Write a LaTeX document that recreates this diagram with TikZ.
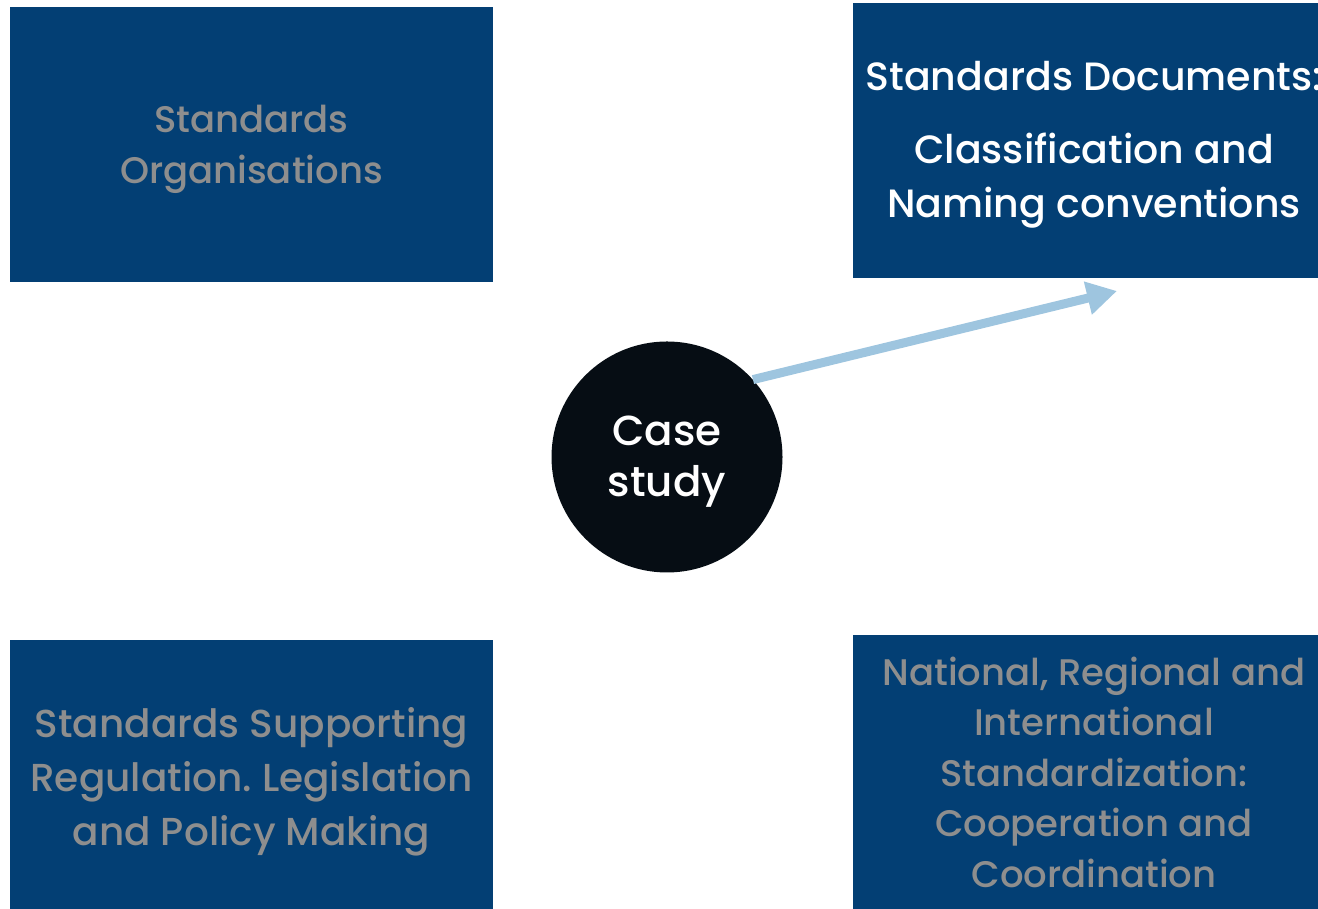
\documentclass[tikz,border=0pt]{standalone}
\usepackage{fontspec}
\setmainfont{Poppins}[UprightFont={* Medium}]
\usetikzlibrary{arrows.meta}
\frenchspacing
\definecolor{boxblue}{HTML}{033F74}
\definecolor{txtgray}{HTML}{8E8E8E}
\definecolor{arrowblue}{HTML}{9EC5DF}
\definecolor{circblack}{HTML}{060D14}
\tikzset{
  panel/.style={fill=boxblue, draw=none, inner sep=0pt, outer sep=0pt},
  graytext/.style={text=txtgray, align=center, inner sep=0pt, font=\frenchspacing\fontsize{37}{51}\selectfont},
  whitetext/.style={text=white, align=center, inner sep=0pt, font=\fontsize{39.5}{54}\selectfont},
  hub/.style={circle, fill=circblack, minimum size=231pt, inner sep=0pt},
  hubtext/.style={text=white, align=center, inner sep=0pt, font=\fontsize{42}{51}\selectfont},
  link/.style={draw=arrowblue, line width=9pt, -{Triangle[length=30pt,width=32pt]}}
}
\begin{document}
\begin{tikzpicture}[x=1pt,y=1pt]
\useasboundingbox (0,0) rectangle (1318,909);
% panels (y = 909 - pixel y)
\fill[panel] (10,902) rectangle (493,627);
\fill[panel] (853,906) rectangle (1336,631);
\fill[panel] (10,269) rectangle (493,-10);
\fill[panel] (853,274) rectangle (1336,-10);
% texts
\node[graytext] (tl) at (251.5,760) {Standards\\Organisations};
\node[whitetext] (tr) at (1094,764) {Standards Documents:\\[19pt]Classification and\\Naming conventions};
\node[graytext, font=\frenchspacing\fontsize{39}{54}\selectfont] (bl) at (251.5,127) {Standards Supporting\\Regulation. Legislation\\and Policy Making};
\node[graytext, font=\fontsize{37}{50.5}\selectfont] (br) at (1094,137) {National, Regional and\\International\\Standardization:\\Cooperation and\\Coordination};
% hub
\node[hub] (cs) at (667,452) {};
\node[hubtext] (cst) at (667,447) {Case\\study};
\coordinate (tip) at (1117,618);
\draw[link] (cs.42) -- (tip);
\end{tikzpicture}
\end{document}
